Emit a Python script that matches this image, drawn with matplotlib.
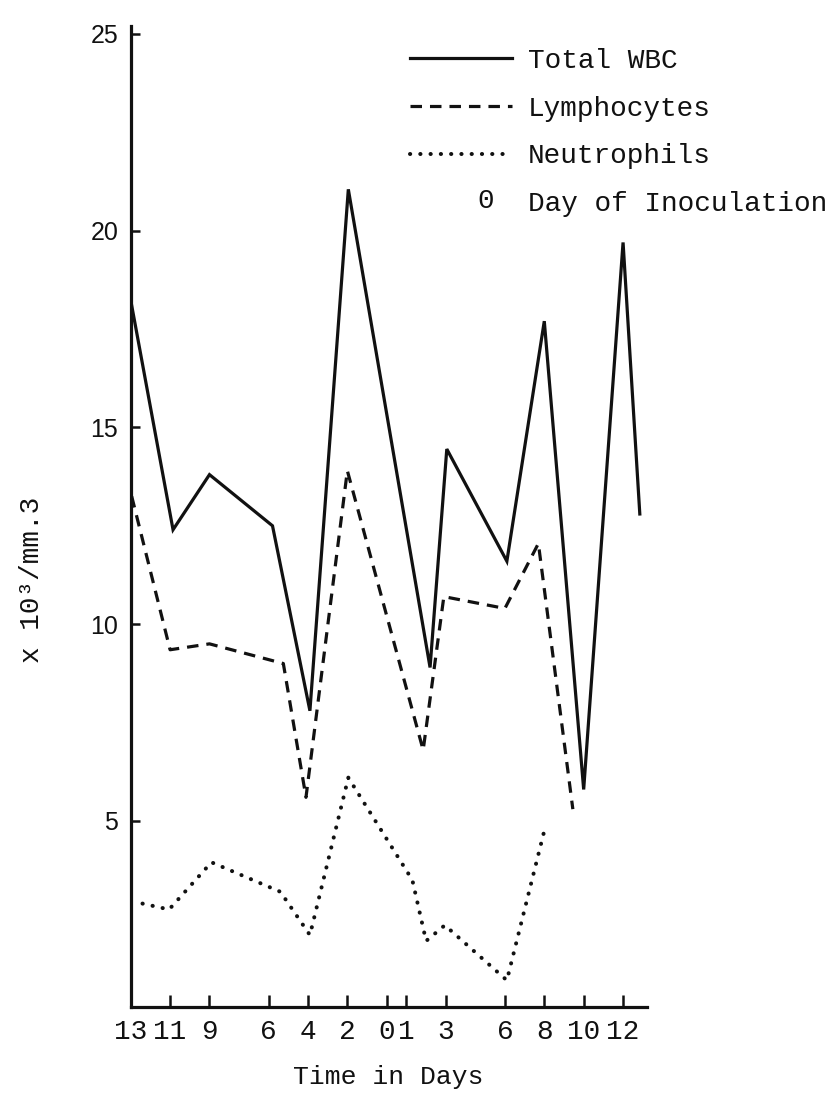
import matplotlib
matplotlib.use('Agg')
import matplotlib.pyplot as plt
from matplotlib.legend_handler import HandlerBase
import matplotlib.text as mtext

# ---------------- data ----------------
tick_days = [-13, -11, -9, -6, -4, -2, 0, 1, 3, 6, 8, 10, 12]
tick_labels = ['13', '11', '9', '6', '4', '2', '0', '1', '3', '6', '8', '10', '12']
y_ticks = [5, 10, 15, 20, 25]

wbc_days = [-12.95, -10.85, -9.0, -5.8, -3.9, -1.95, 2.2, 3.05, 6.1, 8.0, 10.0, 12.0, 12.85]
wbc = [18.1, 12.4, 13.8, 12.5, 7.8, 21.05, 8.9, 14.45, 11.6, 17.7, 5.8, 19.7, 12.8]

lymph_days = [-12.95, -11.0, -9.0, -5.25, -4.1, -2.0, 1.85, 2.9, 6.0, 7.7, 9.45]
lymph = [13.25, 9.35, 9.5, 9.0, 5.6, 13.9, 6.8, 10.7, 10.4, 12.05, 5.3]

neut_days = [-12.4, -11.05, -8.9, -5.4, -3.9, -1.95, 1.3, 2.0, 2.95, 6.1, 8.0]
neut = [2.9, 2.75, 3.95, 3.2, 2.1, 6.1, 3.5, 1.95, 2.35, 0.95, 4.75]

series_labels = ['Total WBC', 'Lymphocytes', 'Neutrophils']
inoc_symbol = '0'
inoc_label = 'Day of Inoculation'
x_label = 'Time in Days'
y_label = 'x 10³/mm.3'

# ---------------- styling ----------------
MONO = ['Liberation Mono', 'DejaVu Sans Mono']
SANS = ['Liberation Sans', 'DejaVu Sans']
INK = '#111111'
W, H = 826, 1104

fig = plt.figure(figsize=(W / 100, H / 100), dpi=100)
fig.patch.set_facecolor('white')
ax_l, ax_r, ax_t, ax_b = 130.7, 646.7, 26.0, 1006.7
ax = fig.add_axes([ax_l / W, 1 - ax_b / H, (ax_r - ax_l) / W, (ax_b - ax_t) / H])
ax.set_xlim(-13.0, 13.2)
ax.set_ylim(0.28, 25.2)

l1, = ax.plot(wbc_days, wbc, color=INK, lw=2.3, solid_joinstyle='miter')
l2, = ax.plot(lymph_days, lymph, color=INK, lw=2.3,
              linestyle=(0, (3.6, 2.5)), dash_capstyle='butt')
l3, = ax.plot(neut_days, neut, color=INK, lw=2.9,
              linestyle=(0, (0.05, 2.5)), dash_capstyle='round')

for s in ['top', 'right']:
    ax.spines[s].set_visible(False)
for s in ['left', 'bottom']:
    ax.spines[s].set_linewidth(2.3)
    ax.spines[s].set_color(INK)

ax.set_xticks(tick_days)
ax.set_xticklabels(tick_labels, family=MONO, fontsize=20, color=INK)
ax.set_yticks(y_ticks)
ax.set_yticklabels([str(v) for v in y_ticks], family=SANS, fontsize=18, color=INK)
ax.tick_params(axis='x', direction='in', length=9, width=1.8, pad=9, colors=INK)
ax.tick_params(axis='y', direction='in', length=6.5, width=1.8, pad=9, colors=INK)

ax.set_xlabel(x_label, family=MONO, fontsize=19, color=INK, labelpad=14)
ax.set_ylabel(y_label, family=MONO, fontsize=20, color=INK)
ax.yaxis.set_label_coords((45 - ax_l) / (ax_r - ax_l), (ax_b - 580) / (ax_b - ax_t))


# ---------------- legend ----------------
class InocMarker:
    pass


class InocHandler(HandlerBase):
    def create_artists(self, legend, orig_handle, xdescent, ydescent,
                       width, height, fontsize, trans):
        t = mtext.Text(x=-xdescent + 0.74 * width, y=-ydescent + 0.5 * height,
                       text=inoc_symbol, ha='center', va='center',
                       fontsize=fontsize, family=MONO, color=INK, transform=trans)
        return [t]


inoc = InocMarker()
leg = ax.legend([l1, l2, l3, inoc], series_labels + [inoc_label],
                handler_map={InocMarker: InocHandler()},
                loc='upper left', bbox_to_anchor=(410 / W, 1 - 48 / H),
                bbox_transform=fig.transFigure, frameon=False,
                prop={'family': MONO, 'size': 20},
                handlelength=3.67, handletextpad=0.58, labelspacing=0.78,
                borderpad=0, borderaxespad=0)
for t in leg.get_texts():
    t.set_color(INK)

fig.savefig('out.png', dpi=100, facecolor='white')
